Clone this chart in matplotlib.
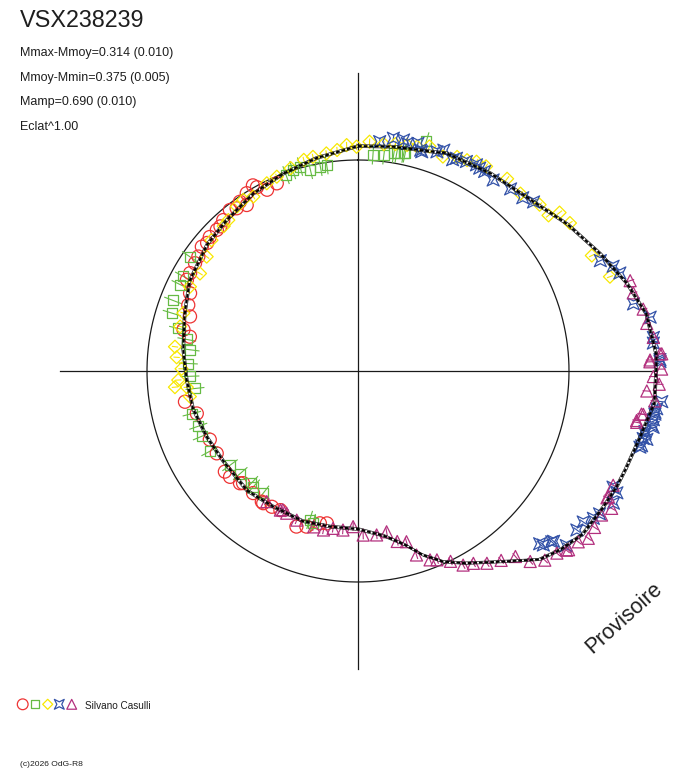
import numpy as np
import matplotlib
matplotlib.use("Agg")
import matplotlib.pyplot as plt
from matplotlib.path import Path
from matplotlib.collections import LineCollection

plt.rcParams['font.family'] = ['Liberation Sans', 'DejaVu Sans']

# ---------------- data (phase, radius relative to mean level = 1) ----------------
title = "VSX238239"
stats_lines = ["Mmax-Mmoy=0.314 (0.010)", "Mmoy-Mmin=0.375 (0.005)",
               "Mamp=0.690 (0.010)", "Eclat^1.00"]
observer = "Silvano Casulli"
credit = "(c)2026 OdG-R8"
stamp = "Provisoire"

fit_phase = [0.000, 0.025, 0.053, 0.061, 0.094, 0.128, 0.153, 0.178, 0.200, 0.219, 0.242,
             0.250, 0.267, 0.286, 0.306, 0.317, 0.331, 0.350, 0.365, 0.378, 0.400, 0.419,
             0.433, 0.446, 0.458, 0.475, 0.500, 0.528, 0.556, 0.589, 0.619, 0.656, 0.685,
             0.714, 0.742, 0.769, 0.800, 0.828, 0.861, 0.886, 0.915, 0.942, 0.969, 1.000]
fit_radius = [1.066, 1.076, 1.099, 1.114, 1.128, 1.156, 1.213, 1.275, 1.341, 1.393, 1.417,
              1.413, 1.413, 1.374, 1.351, 1.343, 1.329, 1.316, 1.280, 1.240, 1.118, 1.043,
              0.990, 0.925, 0.853, 0.791, 0.749, 0.749, 0.758, 0.758, 0.773, 0.768, 0.782,
              0.802, 0.813, 0.834, 0.864, 0.905, 0.933, 0.948, 0.976, 1.000, 1.028, 1.066]
fit_sigma = 0.007

red_phase = [0.918, 0.911, 0.920, 0.926, 0.935, 0.903, 0.906, 0.898, 0.893, 0.884,
             0.879, 0.875, 0.867, 0.862, 0.857, 0.849, 0.843, 0.834, 0.828, 0.819,
             0.809, 0.800, 0.787, 0.782, 0.722, 0.709, 0.681, 0.666, 0.647, 0.640,
             0.629, 0.613, 0.601, 0.590, 0.581, 0.627, 0.599, 0.560, 0.551, 0.539, 0.532]
red_radius = [1.011, 0.994, 0.994, 0.961, 0.969, 0.978, 0.947, 0.962, 0.975, 0.959,
              0.946, 0.946, 0.947, 0.938, 0.946, 0.931, 0.926, 0.921, 0.919, 0.877,
              0.863, 0.837, 0.850, 0.813, 0.833, 0.790, 0.774, 0.775, 0.791, 0.787,
              0.772, 0.763, 0.769, 0.762, 0.755, 0.761, 0.771, 0.793, 0.777, 0.744, 0.737]

green_phase = [0.011, 0.019, 0.026, 0.033, 0.046, 0.976, 0.971, 0.963, 0.956, 0.950,
               0.944, 0.845, 0.829, 0.822, 0.808, 0.798, 0.787, 0.779, 0.770, 0.757,
               0.745, 0.733, 0.710, 0.697, 0.687, 0.671, 0.649, 0.636, 0.621, 0.617,
               0.605, 0.546, 0.550, 0.028, 0.034]
green_radius = [1.026, 1.031, 1.045, 1.054, 1.135, 0.988, 0.985, 0.980, 1.007, 1.001,
                0.989, 0.963, 0.941, 0.937, 0.938, 0.924, 0.875, 0.825, 0.802, 0.805,
                0.797, 0.777, 0.813, 0.801, 0.803, 0.799, 0.753, 0.740, 0.733, 0.739,
                0.733, 0.752, 0.742, 1.048, 1.056]

yellow_phase = [0.008, 0.999, 0.992, 0.985, 0.977, 0.967, 0.960, 0.949, 0.937, 0.928,
                0.914, 0.906, 0.899, 0.887, 0.881, 0.866, 0.853, 0.838, 0.824, 0.801,
                0.789, 0.771, 0.762, 0.752, 0.742, 0.736, 0.735, 0.726, 0.034, 0.049,
                0.060, 0.069, 0.076, 0.082, 0.089, 0.105, 0.118, 0.132, 0.141, 0.144,
                0.153, 0.177, 0.193, 0.018, 0.026, 0.041]
yellow_radius = [1.088, 1.063, 1.072, 1.052, 1.042, 1.037, 1.033, 1.013, 0.998, 0.989,
                 0.964, 0.976, 0.968, 0.943, 0.936, 0.931, 0.899, 0.880, 0.891, 0.872,
                 0.869, 0.875, 0.862, 0.836, 0.853, 0.871, 0.815, 0.806, 1.096, 1.117,
                 1.093, 1.118, 1.125, 1.140, 1.144, 1.153, 1.140, 1.167, 1.166, 1.215,
                 1.225, 1.236, 1.275, 1.082, 1.090, 1.100]

blue_phase = [0.015, 0.024, 0.034, 0.044, 0.055, 0.031, 0.059, 0.067, 0.076, 0.086,
              0.098, 0.111, 0.121, 0.128, 0.182, 0.188, 0.193, 0.212, 0.221, 0.232,
              0.244, 0.235, 0.245, 0.266, 0.272, 0.276, 0.280, 0.284, 0.287, 0.292,
              0.318, 0.320, 0.326, 0.335, 0.339, 0.344, 0.350, 0.364, 0.370, 0.371,
              0.365, 0.361, 0.270, 0.273, 0.279, 0.283, 0.287, 0.291, 0.041, 0.045,
              0.069, 0.083, 0.090]
blue_radius = [1.092, 1.116, 1.103, 1.088, 1.104, 1.116, 1.123, 1.097, 1.118, 1.121,
               1.109, 1.126, 1.133, 1.155, 1.262, 1.307, 1.325, 1.344, 1.408, 1.409,
               1.432, 1.406, 1.432, 1.447, 1.421, 1.419, 1.424, 1.392, 1.407, 1.384,
               1.328, 1.356, 1.363, 1.330, 1.316, 1.285, 1.282, 1.229, 1.205, 1.188,
               1.224, 1.288, 1.427, 1.422, 1.415, 1.390, 1.389, 1.390, 1.116, 1.082,
               1.111, 1.127, 1.120]

mag_phase = [0.199, 0.206, 0.216, 0.224, 0.232, 0.241, 0.244, 0.241, 0.245, 0.249,
             0.253, 0.257, 0.261, 0.266, 0.274, 0.278, 0.317, 0.325, 0.329, 0.335,
             0.343, 0.350, 0.355, 0.362, 0.368, 0.376, 0.363, 0.383, 0.388, 0.397,
             0.406, 0.414, 0.421, 0.428, 0.437, 0.442, 0.451, 0.456, 0.464, 0.472,
             0.482, 0.495, 0.505, 0.515, 0.525, 0.534, 0.544, 0.562, 0.574, 0.581,
             0.597, 0.579, 0.274, 0.279, 0.324]
mag_radius = [1.359, 1.356, 1.383, 1.387, 1.409, 1.434, 1.385, 1.442, 1.384, 1.439,
              1.400, 1.429, 1.372, 1.414, 1.368, 1.341, 1.325, 1.324, 1.367, 1.341,
              1.344, 1.349, 1.321, 1.309, 1.278, 1.260, 1.303, 1.217, 1.153, 1.125,
              1.097, 1.063, 1.046, 1.003, 0.970, 0.958, 0.915, 0.841, 0.829, 0.774,
              0.782, 0.778, 0.738, 0.757, 0.755, 0.771, 0.768, 0.764, 0.754, 0.755,
              0.755, 0.748, 1.359, 1.343, 1.327]

series_err = {"red": 0.0, "green": 0.045, "yellow": 0.015, "blue": 0.02, "mag": 0.02}

# ---------------- styling ----------------
star_path = Path([(1, 1), (0, 0.5), (-1, 1), (-0.5, 0), (-1, -1), (0, -0.5), (1, -1),
                  (0.5, 0), (1, 1)],
                 [Path.MOVETO] + [Path.LINETO] * 7 + [Path.CLOSEPOLY])

COL = {"red": "#EE3434", "green": "#66BB44", "yellow": "#F8E800",
       "blue": "#3352A8", "mag": "#B3307E"}
MK = {"red": "o", "green": "s", "yellow": "D", "blue": star_path, "mag": "^"}
SZ = {"red": 88, "green": 52, "yellow": 44, "blue": 75, "mag": 75}
LEG_SZ = {"red": 60, "green": 32, "yellow": 26, "blue": 50, "mag": 50}

def to_xy(ph, r):
    a = 2 * np.pi * np.asarray(ph, dtype=float)
    r = np.asarray(r, dtype=float)
    return r * np.sin(a), r * np.cos(a)

W, H = 688, 768
fig = plt.figure(figsize=(W / 100, H / 100), dpi=100)
S = 211.0          # pixels per unit radius
half = 330 / S
cx, cy = 358, 371
ax = fig.add_axes([(cx - 330) / W, (H - cy - 330) / H, 660 / W, 660 / H])
ax.set_xlim(-half, half)
ax.set_ylim(-half, half)
ax.axis('off')

# cross axes and mean circle
L = max(fit_radius) * 0.997
ax.plot([-L, L], [0, 0], color="#1a1a1a", lw=0.9, zorder=1)
ax.plot([0, 0], [-L, L], color="#1a1a1a", lw=0.9, zorder=1)
t = np.linspace(0, 1, 400)
cxs, cys = to_xy(t, np.ones_like(t))
ax.plot(cxs, cys, color="#1a1a1a", lw=0.9, zorder=1)

series = [("red", red_phase, red_radius), ("green", green_phase, green_radius),
          ("yellow", yellow_phase, yellow_radius), ("blue", blue_phase, blue_radius),
          ("mag", mag_phase, mag_radius)]

for key, ph, rr in series:
    e = series_err[key]
    if e > 0:
        x0, y0 = to_xy(ph, np.asarray(rr) - e)
        x1, y1 = to_xy(ph, np.asarray(rr) + e)
        segs = [[(a, b), (c, d)] for a, b, c, d in zip(x0, y0, x1, y1)]
        ax.add_collection(LineCollection(segs, colors=COL[key], linewidths=0.8, zorder=2))
    x, y = to_xy(ph, rr)
    ax.scatter(x, y, s=SZ[key], marker=MK[key], facecolors='none',
               edgecolors=COL[key], linewidths=0.9, zorder=3)

# fitted mean curve with envelope
fr = np.asarray(fit_radius)
for k in (-1, 1):
    ex, ey = to_xy(fit_phase, fr + k * fit_sigma)
    ax.plot(ex, ey, color="#111111", lw=0.45, zorder=4)
fx, fy = to_xy(fit_phase, fr)
ax.plot(fx, fy, color="black", lw=1.5, ls=(0, (1.8, 0.9)), zorder=5)

# ---------------- texts ----------------
tc = "#1e1e1e"
fig.text(20 / W, 1 - 26.7 / H, title, fontsize=16.8, va='baseline', ha='left', color=tc)
for i, s in enumerate(stats_lines):
    fig.text(20 / W, 1 - (55.7 + 24.8 * i) / H, s, fontsize=9, va='baseline',
             ha='left', color=tc)

fig.text(624 / W, 1 - 618 / H, stamp, fontsize=15.5, rotation=42, ha='center',
         va='center', rotation_mode='anchor', color=tc)

# legend (figure pixel coordinates)
lax = fig.add_axes([0, 0, 1, 1], facecolor='none')
lax.set_xlim(0, W)
lax.set_ylim(H, 0)
lax.axis('off')
leg_x = [22.7, 35, 47.7, 59.3, 71.7]
for (key, _, _), lx in zip(series, leg_x):
    lax.scatter([lx], [704.3], s=LEG_SZ[key], marker=MK[key], facecolors='none',
                edgecolors=COL[key], linewidths=0.9)
lax.text(85, 709, observer, fontsize=7.2, va='baseline', ha='left', color=tc)
lax.text(20, 766, credit, fontsize=6.1, va='baseline', ha='left', color=tc)

fig.savefig("out.png", dpi=100)
